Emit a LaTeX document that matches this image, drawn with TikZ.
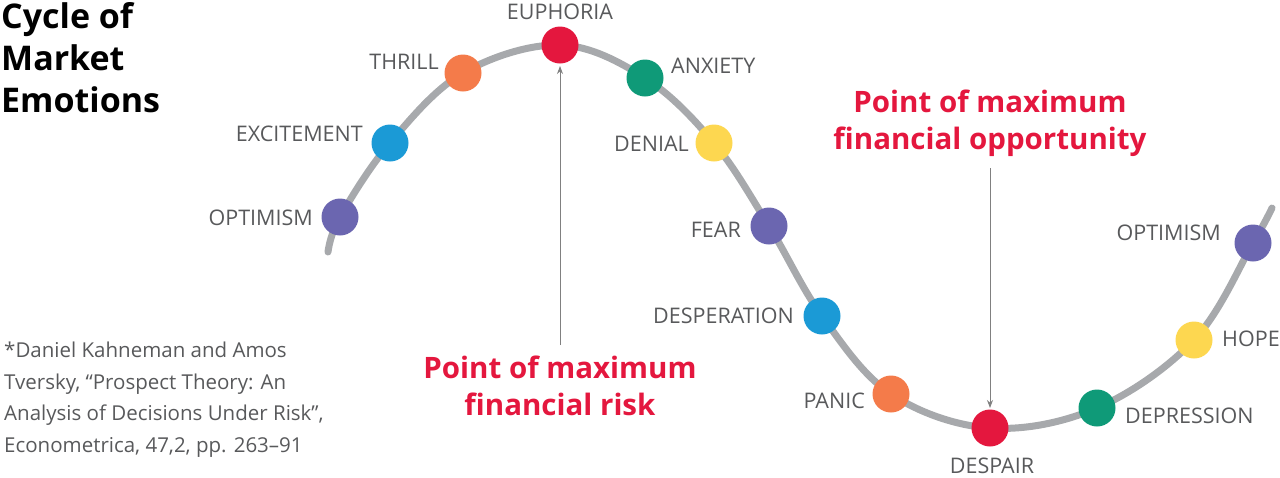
\documentclass[tikz,border=0pt]{standalone}
\usepackage{fontspec}
\setmainfont{Open Sans}
\usetikzlibrary{arrows.meta}
\definecolor{cgray}{HTML}{A7A9AC}
\definecolor{tgray}{HTML}{58595B}
\definecolor{cpur}{HTML}{6B66B0}
\definecolor{cblu}{HTML}{1B9AD6}
\definecolor{cora}{HTML}{F47B4A}
\definecolor{cred}{HTML}{E4173E}
\definecolor{cgrn}{HTML}{0F9A78}
\definecolor{cyel}{HTML}{FDD750}
\begin{document}
\begin{tikzpicture}[x=1pt,y=-1pt,
  dot/.style={circle,minimum size=37pt,inner sep=0pt},
  lab/.style={text=tgray,font=\fontsize{21.5}{22}\selectfont,inner sep=1pt},
  red/.style={text=cred,font=\bfseries\fontsize{29.5}{37}\selectfont,align=center},
  ptr/.style={draw=gray,line width=0.8pt,-{Stealth[length=8pt,width=6pt]}}]
\useasboundingbox (0,0) rectangle (1280,477);
\draw[cgray,line width=7pt,line cap=round] plot[smooth,tension=0.6] coordinates {
(328,252)(340,217)(390,143)(463,73)(560,45)(645,78)(714,143)(769,226)(822,316)(891,394)(990,428)(1097,408)(1194,340)(1253,243)(1272,208)};
\node[dot,fill=cpur] (o1) at (340,217) {};
\node[dot,fill=cblu] (ex) at (390,143) {};
\node[dot,fill=cora] (th) at (463,73) {};
\node[dot,fill=cred] (eu) at (560,45) {};
\node[dot,fill=cgrn] (an) at (645,78) {};
\node[dot,fill=cyel] (de) at (714,143) {};
\node[dot,fill=cpur] (fe) at (769,226) {};
\node[dot,fill=cblu] (ds) at (822,316) {};
\node[dot,fill=cora] (pa) at (891,394) {};
\node[dot,fill=cred] (dp) at (990,428) {};
\node[dot,fill=cgrn] (dr) at (1097,408) {};
\node[dot,fill=cyel] (ho) at (1194,340) {};
\node[dot,fill=cpur] (o2) at (1253,243) {};
\node[lab,anchor=east] (lo1) at (314,218) {OPTIMISM};
\node[lab,anchor=east] (lex) at (364,134) {EXCITEMENT};
\node[lab,anchor=east] (lth) at (440,62) {THRILL};
\node[lab] (leu) at (560,12) {EUPHORIA};
\node[lab,anchor=west] (lan) at (670,66) {ANXIETY};
\node[lab,anchor=east] (lde) at (690,144) {DENIAL};
\node[lab,anchor=east] (lfe) at (742,230) {FEAR};
\node[lab,anchor=east] (lds) at (795,316) {DESPERATION};
\node[lab,anchor=east] (lpa) at (866,401) {PANIC};
\node[lab] (ldp) at (992,466) {DESPAIR};
\node[lab,anchor=west] (ldr) at (1124,416) {DEPRESSION};
\node[lab,anchor=west] (lho) at (1221,339) {HOPE};
\node[lab,anchor=east] (lo2) at (1222,233) {OPTIMISM};
\node[anchor=north west,align=left,font=\bfseries\fontsize{34}{42}\selectfont,inner sep=0pt] (title) at (1,2) {Cycle of\\Market\\Emotions};
\node[anchor=north west,align=left,text=tgray,font=\fontsize{20.5}{31.5}\selectfont,inner sep=0pt] (note) at (4,342) {*Daniel Kahneman and Amos\\Tversky, “Prospect Theory: An\\Analysis of Decisions Under Risk”,\\Econometrica, 47,2, pp. 263–91};
\node[red] (risk) at (560,386) {Point of maximum\\financial risk};
\node[red] (opp) at (990,123) {Point of maximum\\financial opportunity};
\coordinate (rs) at (560,345);
\coordinate (re) at (560,66);
\coordinate (os) at (990,168);
\coordinate (oe) at (990,408);
\draw[ptr] (rs) -- (re);
\draw[ptr] (os) -- (oe);
\end{tikzpicture}
\end{document}
